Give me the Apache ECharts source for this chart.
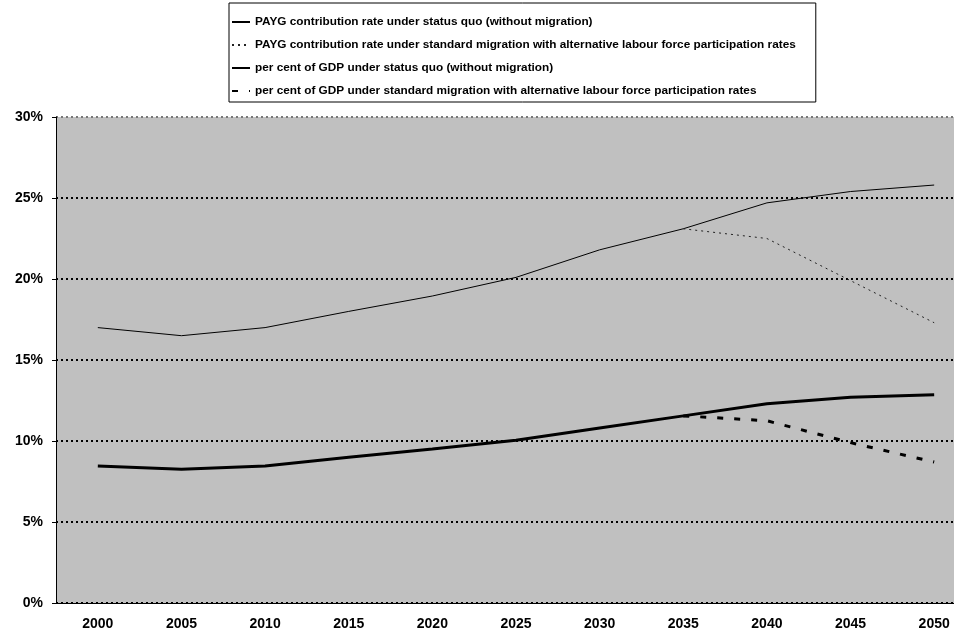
<!DOCTYPE html>
<html>
<head>
<meta charset="utf-8">
<script src="https://cdn.jsdelivr.net/npm/echarts@6/dist/echarts.min.js"></script>
<style>
  html, body { margin: 0; padding: 0; background: #fff; overflow: hidden; }
  /* the plot area runs past the right edge of the window, as in the original */
  #chart { width: 990px; height: 637px; }
</style>
</head>
<body>
<div id="chart"></div>
<script>
// categories (x axis)
const years = ["2000", "2005", "2010", "2015", "2020", "2025", "2030", "2035", "2040", "2045", "2050"];

// series values, per cent
const paygStatusQuo = [17.0, 16.5, 17.0, 18.0, 18.95, 20.1, 21.8, 23.1, 24.7, 25.4, 25.8];
const paygMigration = [null, null, null, null, null, null, null, 23.1, 22.5, 19.9, 17.3];
const gdpStatusQuo = [8.45, 8.25, 8.45, 9.0, 9.5, 10.05, 10.8, 11.55, 12.3, 12.7, 12.85];
const gdpMigration = [null, null, null, null, null, null, null, 11.55, 11.25, 9.9, 8.7];

const seriesNames = [
  "PAYG contribution rate under status quo (without migration)",
  "PAYG contribution rate under standard migration with alternative labour force participation rates",
  "per cent of GDP under status quo (without migration)",
  "per cent of GDP under standard migration with alternative labour force participation rates",
];

const font = "Liberation Sans, Arial, sans-serif";

const chart = echarts.init(document.getElementById("chart"));

const option = {
  animation: false,
  backgroundColor: "#ffffff",
  legend: {
    orient: "vertical",
    left: 229,
    top: 3,
    itemWidth: 18,
    itemHeight: 12,
    itemGap: 11,
    padding: [13, 20, 5, 2],
    borderColor: "#000",
    borderWidth: 1,
    itemStyle: { opacity: 0 },
    textStyle: { fontFamily: font, fontWeight: "bold", fontSize: 11.8, color: "#000" },
    data: seriesNames,
  },
  grid: {
    left: 56,
    top: 117,
    width: 920,
    height: 486,
    show: true,
    backgroundColor: "#c0c0c0",
    borderWidth: 0,
  },
  xAxis: {
    type: "category",
    data: years,
    boundaryGap: true,
    axisLine: { lineStyle: { color: "#000", width: 1 } },
    axisTick: { length: 5, lineStyle: { color: "#000" } },
    axisLabel: {
      fontFamily: font,
      fontWeight: "bold",
      fontSize: 14,
      color: "#000",
      margin: 14,
    },
  },
  yAxis: {
    type: "value",
    min: 0,
    max: 30,
    interval: 5,
    axisLine: { show: true, lineStyle: { color: "#000", width: 1 } },
    axisTick: { show: true, length: 4, lineStyle: { color: "#000" } },
    axisLabel: {
      formatter: "{value}%",
      fontFamily: font,
      fontWeight: "bold",
      fontSize: 14,
      color: "#000",
      margin: 13,
    },
    splitLine: {
      lineStyle: {
        color: ["#000", "#000", "#000", "#000", "#000", "#000", "#777"],
        width: 2,
        type: [2, 3],
      },
    },
  },
  series: [
    {
      name: seriesNames[0],
      type: "line",
      data: paygStatusQuo,
      symbol: "none",
      lineStyle: { color: "#000", width: 1 },
      itemStyle: { color: "#000" },
    },
    {
      name: seriesNames[1],
      type: "line",
      data: paygMigration,
      symbol: "none",
      lineStyle: { color: "#222", width: 1, type: [2, 4] },
      itemStyle: { color: "#222" },
    },
    {
      name: seriesNames[2],
      type: "line",
      data: gdpStatusQuo,
      symbol: "none",
      lineStyle: { color: "#000", width: 3 },
      itemStyle: { color: "#000" },
    },
    {
      name: seriesNames[3],
      type: "line",
      data: gdpMigration,
      symbol: "none",
      lineStyle: { color: "#000", width: 3, type: [6, 11] },
      itemStyle: { color: "#000" },
    },
  ],
};

chart.setOption(option);
</script>
</body>
</html>
